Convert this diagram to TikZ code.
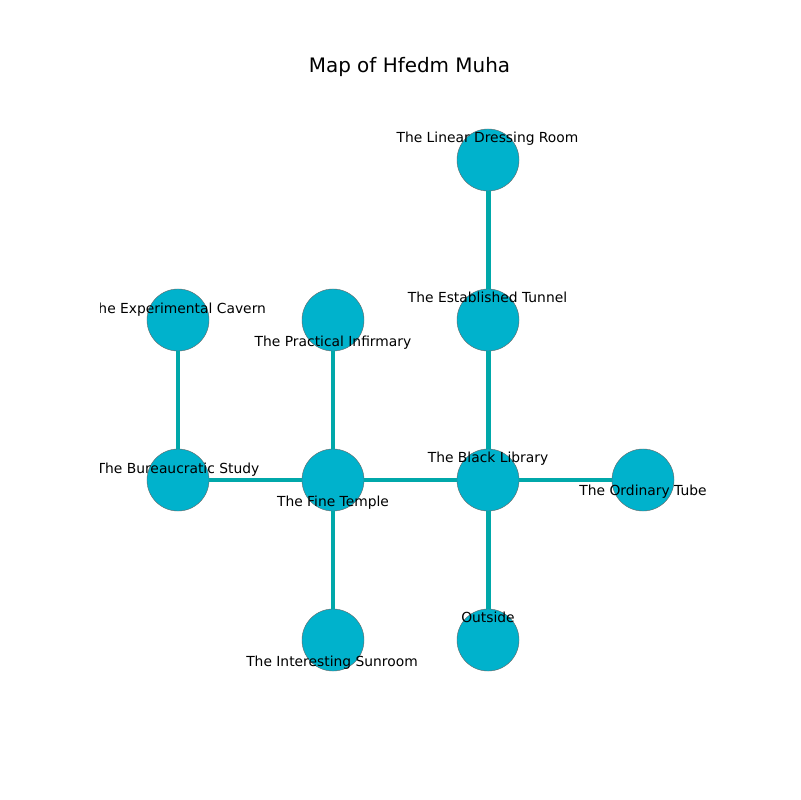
\documentclass[tikz,border=0pt]{standalone}
\usepackage{fontspec}
\setmainfont{DejaVu Sans}
\definecolor{roomfill}{RGB}{0,178,204}
\definecolor{passage}{RGB}{0,168,170}
\tikzset{
  room/.style={circle,fill=roomfill,draw=gray!80!black,line width=0.3pt,minimum size=0.62in,inner sep=0pt},
  path/.style={draw=passage,line width=3.6pt},
  roomlabel/.style={font=\fontsize{10}{12}\selectfont,inner sep=0pt,text height=1.6ex,text depth=0.4ex}
}

\begin{document}
\begin{tikzpicture}[x=0.01in,y=-0.01in]
\useasboundingbox (0,0) rectangle (800,800);

\node[font=\fontsize{14.4}{17}\selectfont] (title) at (409.5,67) {Map of Hfedm Muha};

% rooms
\node[room] (dressing) at (488,160) {};
\node[room] (tunnel) at (488,320) {};
\node[room] (cavern) at (178,320) {};
\node[room] (infirmary) at (333,320) {};
\node[room] (study) at (178,480) {};
\node[room] (temple) at (333,480) {};
\node[room] (library) at (488,480) {};
\node[room] (tube) at (643,480) {};
\node[room] (sunroom) at (333,640) {};
\node[room] (outside) at (488,640) {};

% passages
\path[path] (dressing) -- (tunnel);
\path[path] (tunnel) -- (library);
\path[path] (cavern) -- (study);
\path[path] (infirmary) -- (temple);
\path[path] (study) -- (temple);
\path[path] (temple) -- (library);
\path[path] (library) -- (tube);
\path[path] (temple) -- (sunroom);
\path[path] (library) -- (outside);

% labels
\begin{scope}
\clip (100,96) rectangle (720,712);
\node[roomlabel] (ldressing) at (487.5,138) {The Linear Dressing Room};
\node[roomlabel] (ltunnel) at (487.5,298) {The Established Tunnel};
\node[roomlabel] (lcavern) at (178,309) {The Experimental Cavern};
\node[roomlabel] (linfirmary) at (333,342) {The Practical Infirmary};
\node[roomlabel] (lstudy) at (178,469) {The Bureaucratic Study};
\node[roomlabel] (ltemple) at (333,502) {The Fine Temple};
\node[roomlabel] (llibrary) at (488,458) {The Black Library};
\node[roomlabel] (ltube) at (643,491) {The Ordinary Tube};
\node[roomlabel] (lsunroom) at (332,662) {The Interesting Sunroom};
\node[roomlabel] (loutside) at (488,618) {Outside};
\end{scope}
\end{tikzpicture}
\end{document}
